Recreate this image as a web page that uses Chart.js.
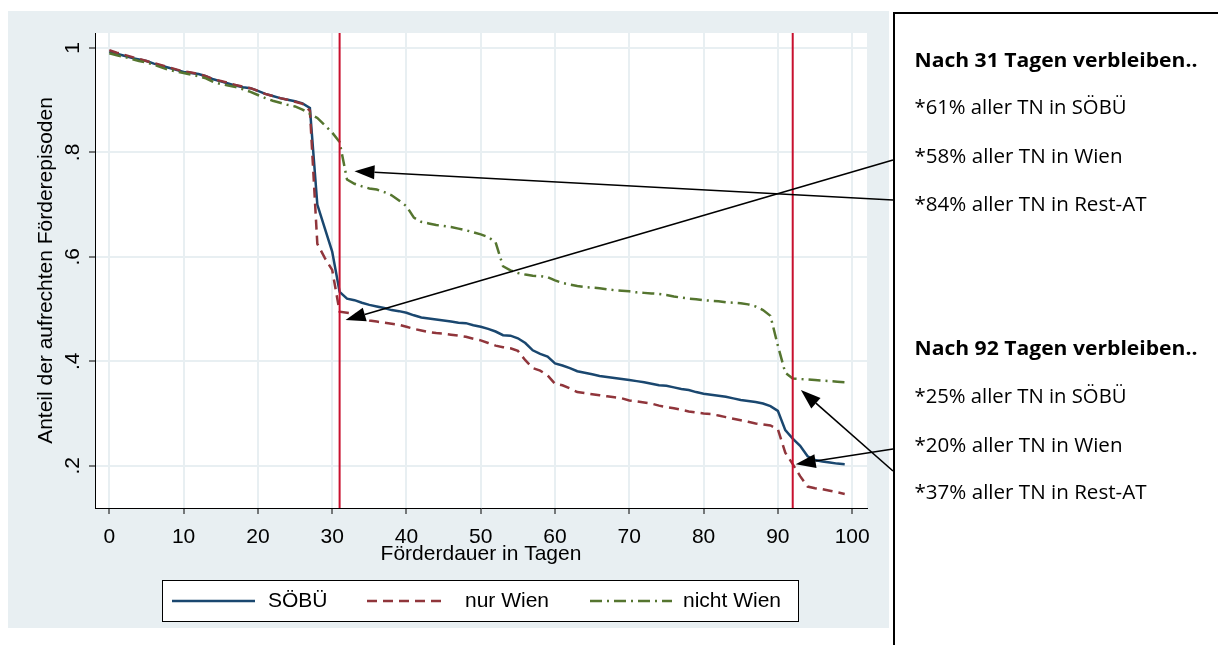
<!DOCTYPE html>
<html><head><meta charset="utf-8">
<script src="https://cdn.jsdelivr.net/npm/chart.js@4.4.1/dist/chart.umd.min.js"></script>
<style>html,body{margin:0;padding:0;background:#fff;overflow:hidden}canvas{display:block}</style>
</head><body>
<canvas id="c" width="1218" height="645"></canvas>
<script>
// ---------- data ----------
const days = Array.from({length: 100}, (_, i) => i);
const soebue = [0.993,0.989,0.985,0.981,0.978,0.975,0.970,0.966,0.962,0.958,
0.954,0.952,0.950,0.946,0.940,0.936,0.932,0.928,0.925,0.923,
0.918,0.912,0.908,0.904,0.901,0.898,0.894,0.885,0.700,0.655,
0.610,0.533,0.520,0.517,0.512,0.508,0.505,0.502,0.498,0.496,
0.493,0.488,0.484,0.482,0.480,0.478,0.476,0.474,0.473,0.469,
0.466,0.462,0.457,0.450,0.449,0.444,0.435,0.421,0.414,0.409,
0.396,0.392,0.387,0.381,0.378,0.375,0.372,0.370,0.368,0.366,
0.364,0.362,0.360,0.357,0.354,0.353,0.350,0.347,0.345,0.341,
0.338,0.336,0.334,0.332,0.329,0.326,0.324,0.322,0.319,0.314,
0.305,0.268,0.252,0.238,0.218,0.211,0.208,0.206,0.204,0.203];
const nurWien = [0.996,0.991,0.987,0.983,0.979,0.975,0.971,0.967,0.963,0.959,
0.955,0.953,0.950,0.946,0.940,0.937,0.933,0.929,0.926,0.923,
0.918,0.912,0.908,0.904,0.901,0.897,0.893,0.880,0.625,0.598,
0.575,0.495,0.493,0.491,0.482,0.478,0.476,0.474,0.472,0.470,
0.466,0.462,0.459,0.456,0.454,0.453,0.451,0.449,0.447,0.443,
0.440,0.435,0.430,0.427,0.425,0.420,0.402,0.387,0.382,0.373,
0.357,0.354,0.348,0.341,0.339,0.337,0.335,0.333,0.331,0.329,
0.325,0.323,0.321,0.319,0.315,0.312,0.310,0.307,0.304,0.302,
0.300,0.299,0.296,0.293,0.290,0.287,0.284,0.281,0.279,0.277,
0.270,0.225,0.203,0.180,0.160,0.157,0.155,0.152,0.149,0.146];
const nichtWien = [0.990,0.986,0.983,0.979,0.975,0.972,0.968,0.963,0.958,0.955,
0.952,0.949,0.946,0.942,0.935,0.931,0.928,0.925,0.921,0.916,
0.910,0.904,0.899,0.895,0.891,0.888,0.882,0.874,0.866,0.852,
0.838,0.820,0.748,0.740,0.735,0.731,0.729,0.724,0.718,0.708,
0.697,0.675,0.667,0.664,0.661,0.659,0.657,0.654,0.651,0.647,
0.643,0.638,0.628,0.582,0.574,0.569,0.566,0.564,0.563,0.561,
0.555,0.550,0.547,0.544,0.542,0.541,0.540,0.538,0.536,0.535,
0.534,0.532,0.531,0.530,0.529,0.527,0.524,0.522,0.520,0.519,
0.517,0.516,0.515,0.513,0.512,0.511,0.509,0.505,0.498,0.487,
0.430,0.378,0.367,0.366,0.365,0.364,0.363,0.362,0.361,0.360];
const seriesNames = ['SÖBÜ', 'nur Wien', 'nicht Wien'];
const xTicks = [0,10,20,30,40,50,60,70,80,90,100];
const yTicks = [0.2,0.4,0.6,0.8,1];
const yTickLabels = ['.2','.4','.6','.8','1'];
const markerDays = [31, 92];
const xTitle = 'Förderdauer in Tagen';
const yTitle = 'Anteil der aufrechten Förderepisoden';
const note1 = ['Nach 31 Tagen verbleiben..','*61% aller TN in SÖBÜ','*58% aller TN in Wien','*84% aller TN in Rest-AT'];
const note2 = ['Nach 92 Tagen verbleiben..','*25% aller TN in SÖBÜ','*20% aller TN in Wien','*37% aller TN in Rest-AT'];
const arrowTipDay = [33.0, 31.8, 92.4, 93.1];
const arrowTipVal = [0.764, 0.479, 0.203, 0.345];

// ---------- styles ----------
const BLUE = '#1a476f', RED = '#90353b', GREEN = '#55752f', XLINE = '#c8102e';
const BG = '#e8eff2', GRID = '#e8eff2';
const SFONT = '"Liberation Sans", Arial, sans-serif';
const NFONT = '"Open Sans", "Noto Sans", sans-serif';
const yMin = 0.119, yMax = 1.0287;

const mk = arr => days.map((d, i) => ({x: d, y: arr[i]}));
const vline = d => [{x: d, y: yMin}, {x: d, y: yMax}];

function sText(ctx, txt, x, y, rot, size, sx, align) {
  ctx.save();
  ctx.translate(x, y);
  ctx.scale(sx, 1);
  ctx.rotate(rot);
  ctx.font = size + 'px ' + SFONT;
  ctx.fillStyle = '#000';
  ctx.textAlign = align || 'center';
  ctx.textBaseline = 'middle';
  ctx.fillText(txt, 0, 0);
  ctx.restore();
}
function fitText(ctx, txt, x, baseY, size, bold, targetW) {
  ctx.save();
  ctx.font = (bold ? 'bold ' : '') + size + 'px ' + NFONT;
  const w = ctx.measureText(txt).width;
  ctx.translate(x, baseY);
  ctx.scale(targetW / w, 1);
  ctx.fillStyle = '#000';
  ctx.textAlign = 'left';
  ctx.textBaseline = 'alphabetic';
  ctx.fillText(txt, 0, 0);
  ctx.restore();
}
function arrow(ctx, x0, y0, x1, y1) {
  const a = Math.atan2(y1 - y0, x1 - x0), L = 20, W = 7;
  const bx = x1 - L * Math.cos(a), by = y1 - L * Math.sin(a);
  ctx.save();
  ctx.strokeStyle = '#000'; ctx.fillStyle = '#000'; ctx.lineWidth = 1.6;
  ctx.beginPath(); ctx.moveTo(x0, y0); ctx.lineTo(bx, by); ctx.stroke();
  ctx.beginPath();
  ctx.moveTo(x1, y1);
  ctx.lineTo(bx + W * Math.sin(a), by - W * Math.cos(a));
  ctx.lineTo(bx - W * Math.sin(a), by + W * Math.cos(a));
  ctx.closePath(); ctx.fill();
  ctx.restore();
}

const deco = {
  id: 'deco',
  beforeDraw(chart) {
    const ctx = chart.ctx, a = chart.chartArea;
    ctx.save();
    ctx.fillStyle = '#fff'; ctx.fillRect(0, 0, 1218, 645);
    ctx.fillStyle = BG; ctx.fillRect(8, 11, 881, 617);
    ctx.fillStyle = '#fff'; ctx.fillRect(a.left, a.top, a.right - a.left, a.bottom - a.top);
    ctx.restore();
  },
  afterDraw(chart) {
    const ctx = chart.ctx, xs = chart.scales.x, ys = chart.scales.y;
    // tick labels
    xTicks.forEach(v => sText(ctx, String(v), xs.getPixelForValue(v), 537, 0, 21, 1));
    yTicks.forEach((v, i) => sText(ctx, yTickLabels[i], 73, ys.getPixelForValue(v), -Math.PI / 2, 21, 1));
    sText(ctx, xTitle, (xs.left + xs.right) / 2, 554, 0, 21, 1);
    sText(ctx, yTitle, 46, (ys.top + ys.bottom) / 2, -Math.PI / 2, 21, 1);
    // legend
    ctx.save();
    ctx.fillStyle = '#fff'; ctx.fillRect(162, 580, 636, 41);
    ctx.strokeStyle = '#000'; ctx.lineWidth = 1; ctx.strokeRect(162.5, 580.5, 636, 41);
    const ly = 601;
    const samples = [[172, 255, BLUE, []], [367, 447, RED, [10, 6]], [590, 672, GREEN, [12, 5, 2, 5]]];
    const textX = [268, 465, 683];
    samples.forEach((s, i) => {
      ctx.strokeStyle = s[2]; ctx.lineWidth = 2.5; ctx.setLineDash(s[3]);
      ctx.beginPath(); ctx.moveTo(s[0], ly); ctx.lineTo(s[1], ly); ctx.stroke();
      ctx.setLineDash([]);
      sText(ctx, seriesNames[i], textX[i], ly, 0, 21, 1, 'left');
    });
    ctx.restore();
    // annotation box
    ctx.save();
    ctx.fillStyle = '#fff'; ctx.fillRect(893, 12, 330, 640);
    ctx.strokeStyle = '#000'; ctx.lineWidth = 2; ctx.strokeRect(894, 13, 330, 640);
    ctx.restore();
    const widths = [283, 212, 208, 232];
    const base1 = [66.7, 114.3, 163.3, 210.7];
    const base2 = [355, 403.3, 451.7, 499.3];
    note1.forEach((t, i) => fitText(ctx, t, 914.5, base1[i], i ? 20 : 19.5, i === 0, widths[i]));
    note2.forEach((t, i) => fitText(ctx, t, 914.5, base2[i], i ? 20 : 19.5, i === 0, widths[i]));
    // arrows
    const starts = [[893, 200], [893, 160], [893, 449], [893, 471]];
    starts.forEach((s, i) => arrow(ctx, s[0], s[1], xs.getPixelForValue(arrowTipDay[i]), ys.getPixelForValue(arrowTipVal[i])));
  }
};

new Chart(document.getElementById('c'), {
  type: 'line',
  data: {
    datasets: [
      {label: 'x31', data: vline(markerDays[0]), borderColor: XLINE, borderWidth: 2, pointRadius: 0, order: 1},
      {label: 'x92', data: vline(markerDays[1]), borderColor: XLINE, borderWidth: 2, pointRadius: 0, order: 1},
      {label: seriesNames[2], data: mk(nichtWien), borderColor: GREEN, borderWidth: 2.5, borderDash: [12, 5, 2, 5], pointRadius: 0, tension: 0, order: 2},
      {label: seriesNames[1], data: mk(nurWien), borderColor: RED, borderWidth: 2.5, borderDash: [10, 6], pointRadius: 0, tension: 0, order: 3},
      {label: seriesNames[0], data: mk(soebue), borderColor: BLUE, borderWidth: 2.5, pointRadius: 0, tension: 0, order: 4}
    ]
  },
  options: {
    responsive: false,
    animation: false,
    events: [],
    layout: {padding: {left: 0, top: 33, right: 351, bottom: 0}},
    plugins: {legend: {display: false}, tooltip: {enabled: false}},
    scales: {
      x: {
        type: 'linear', min: -1.93, max: 102,
        afterBuildTicks: s => { s.ticks = xTicks.map(v => ({value: v})); },
        afterFit: s => { s.height = 137; },
        ticks: {display: false},
        grid: {color: GRID, lineWidth: 2, drawTicks: true, tickLength: 6, tickColor: '#000', tickWidth: 1},
        border: {display: true, color: '#000', width: 1}
      },
      y: {
        type: 'linear', min: yMin, max: yMax,
        afterBuildTicks: s => { s.ticks = yTicks.map(v => ({value: v})); },
        afterFit: s => { s.width = 95; },
        ticks: {display: false},
        grid: {color: GRID, lineWidth: 2, drawTicks: true, tickLength: 6, tickColor: '#000', tickWidth: 1},
        border: {display: true, color: '#000', width: 1}
      }
    }
  },
  plugins: [deco]
});
</script>
</body></html>
